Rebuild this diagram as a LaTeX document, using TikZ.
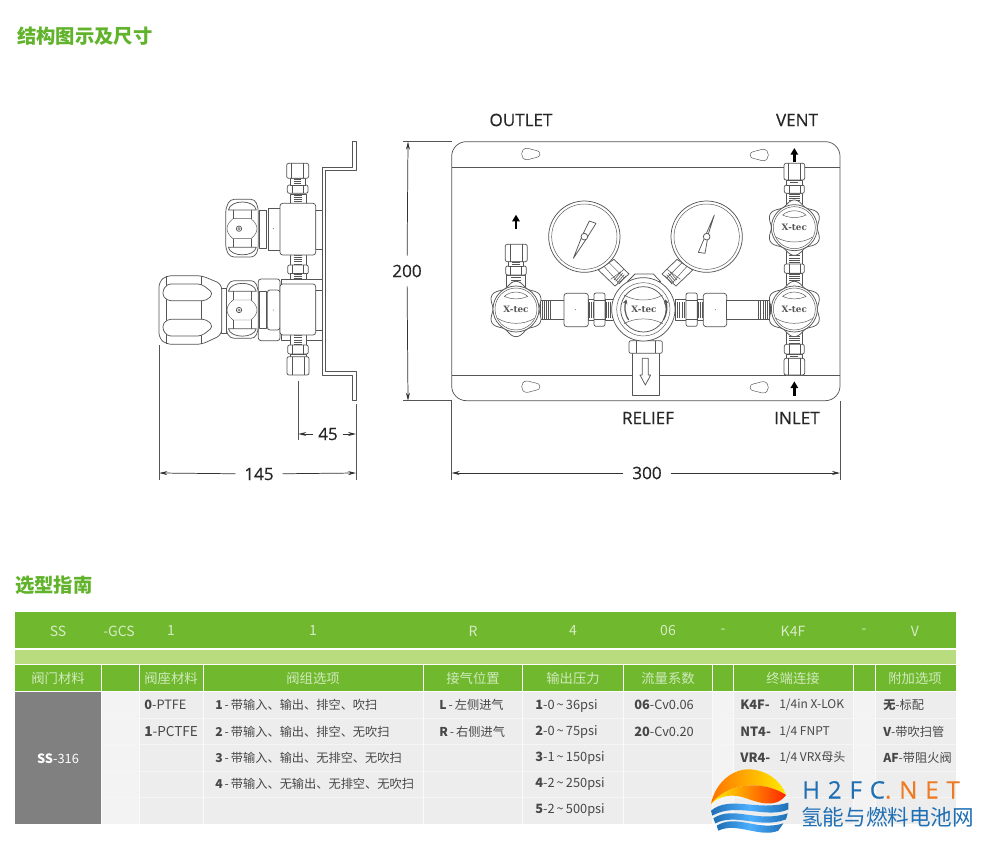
\documentclass[tikz,border=0pt]{standalone}
\usepackage{fontspec}
\setmainfont{Noto Sans CJK SC}
\newfontfamily\labelfont[FakeBold=.35]{Open Sans}
\newfontfamily\markfont[LetterSpace=33,FakeBold=.5]{Open Sans}
\newfontfamily\xtecfont{DejaVu Serif}
\usetikzlibrary{arrows.meta}
\definecolor{titlegreen}{HTML}{62B32C}
\definecolor{bargreen}{HTML}{70B92F}
\definecolor{palegreen}{HTML}{B9DC7E}
\definecolor{lightcell}{HTML}{EDEDED}
\definecolor{blankcell}{HTML}{F3F3F3}
\definecolor{greycell}{HTML}{808080}
\definecolor{linegray}{HTML}{555555}
\definecolor{markblue}{HTML}{1F6FB5}
\definecolor{markorange}{HTML}{EE7B24}
\tikzset{
  part/.style={draw=linegray,line width=.55pt,fill=white,line join=round},
  thin part/.style={draw=linegray,line width=.35pt},
  threadband/.style={draw=linegray,line width=#1,dash pattern=on .45pt off 1.15pt},
  extline/.style={draw=linegray,line width=.5pt},
  dimline/.style={draw=black!80,line width=.55pt,-{Stealth[length=6pt,width=3pt]}},
  flowarrow/.style={draw=black,line width=1.9pt,-{Stealth[length=5pt,width=5.5pt,inset=0pt]}},
  plainlabel/.style={font=\labelfont\fontsize{12.8}{15}\selectfont,text=black!85,inner sep=3.5pt},
  dimlabel/.style={plainlabel,inner sep=6.5pt},
  titletext/.style={font=\bfseries\fontsize{14.5}{16}\selectfont,text=titlegreen,anchor=west,inner sep=0pt},
  codetext/.style={font=\fontsize{10.5}{12}\selectfont,text=white!72!bargreen,inner sep=0pt},
  headtext/.style={font=\fontsize{10}{12}\selectfont,text=white!68!bargreen,inner sep=0pt},
  celltext/.style={font=\fontsize{9.6}{12}\selectfont,text=black!72,anchor=west,inner sep=0pt},
  cjkcell/.style={celltext,font=\fontsize{9.15}{12}\selectfont},
  xtecmark/.style={font=\xtecfont\bfseries\fontsize{6.6}{7}\selectfont,text=linegray,inner sep=0pt},
  knob/.pic={
    \draw[part] plot[domain=0:360,samples=121,smooth] ({(76-7*cos(6*\x))*cos(\x)},{(76-7*cos(6*\x))*sin(\x)}) -- cycle;
    \draw[part] (0,0) circle (69);
    \draw[thin part] (0,0) circle (63);
    \draw[thin part] (-35,-38) .. controls (-15,-55) and (15,-55) .. (35,-38) .. controls (15,-28) and (-15,-28) .. (-35,-38) -- cycle;
    \draw[thin part] (-55,28) .. controls (-25,48) and (25,48) .. (55,28);
    \node[xtecmark] (mark) at (0,0) {X-tec};
  },
  slot/.pic={
    \draw[thin part] (-12,-17) .. controls (-32,-17) and (-32,17) .. (-12,17) .. controls (0,17) and (5,11) .. (15,11) .. controls (32,11) and (32,-11) .. (15,-11) .. controls (5,-11) and (0,-17) .. (-12,-17) -- cycle;
  },
  sideknob/.pic={
    \draw[part,rounded corners=3pt] (-40,-60) -- (-27,-88) -- (48,-88) -- (58,-60) -- (58,60) -- (48,85) -- (-27,85) -- (-40,60) -- cycle;
    \draw[part] (-32,-56) .. controls (-25,-88) and (45,-88) .. (52,-56) -- cycle;
    \draw[part] (-32,56) .. controls (-25,86) and (45,86) .. (52,56) -- cycle;
    \draw[thin part] (-18,-56) -- (-18,-30) (36,-56) -- (36,-30) (-18,56) -- (-18,30) (36,56) -- (36,30);
    \draw[thin part] (-18,-30) -- (36,-30) .. controls (60,-10) and (60,10) .. (36,30) -- (-18,30) .. controls (-42,10) and (-42,-10) .. (-18,-30);
    \draw[part] (0,0) circle (8);
    \draw[thin part] (0,0) circle (3.5);
  }
}
% one fitting on a vertical axis, #1 x, #2 top, #3 bottom, #4 half width
\newcommand{\vnut}[4]{
  \draw[part,rounded corners=1.5pt] ({#1-#4},#2) rectangle ({#1+#4},#3);
  \draw[thin part] ({#1-.55*#4},#2) -- ({#1-.55*#4},#3) ({#1+.55*#4},#2) -- ({#1+.55*#4},#3);
}
% the same on a horizontal axis, #1 y, #2 left, #3 right, #4 half height
\newcommand{\hnut}[4]{
  \draw[part,rounded corners=1.5pt] (#2,{#1-#4}) rectangle (#3,{#1+#4});
  \draw[thin part] (#2,{#1-.55*#4}) -- (#3,{#1-.55*#4}) (#2,{#1+.55*#4}) -- (#3,{#1+.55*#4});
}
\begin{document}
\begin{tikzpicture}[x=.75pt,y=-.75pt]
  \useasboundingbox (0,0) rectangle (981,845);
  \fill[white] (0,0) rectangle (981,845);
  \node[titletext] (title1) at (17,36.5) {结构图示及尺寸};
  \node[titletext] (title2) at (15,585) {选型指南};

  % side view
  \begin{scope}[shift={(140,130)},x=.25pt,y=-.25pt]
    \draw[part] (637,35) -- (648,35) -- (648,122) -- (557,122) -- (557,725) -- (648,725) -- (648,812) -- (637,812) -- (637,735) -- (547,735) -- (547,112) -- (637,112) -- cycle;
    % upper valve
    \draw[part] (527,240) rectangle (548,358);
    \draw[part] (450,193) rectangle (500,222);
    \draw[threadband=6pt] (475,195) -- (475,220);
    \vnut{473}{165}{190}{31}
    \draw[part] (450,145) rectangle (497,165);
    \draw[threadband=5pt] (473,146) -- (473,164);
    \vnut{473}{100}{145}{33}
    \draw[part] (450,373) rectangle (500,407);
    \draw[threadband=6pt] (475,375) -- (475,405);
    \vnut{474}{405}{432}{31}
    \draw[part] (450,430) rectangle (500,465);
    \draw[threadband=6pt] (475,432) -- (475,462);
    \draw[part] (385,235) rectangle (420,360);
    \draw[part] (358,240) rectangle (380,355);
    \draw[part,rounded corners=2pt] (420,220) rectangle (527,375);
    \fill[linegray] (400,296) circle (1.5);
    \pic (sideA) at (297,296) {sideknob};
    % lower valve
    \draw[part] (425,447) rectangle (548,632);
    \draw[part] (527,480) rectangle (548,600);
    \draw[part] (450,612) rectangle (498,645);
    \draw[threadband=6pt] (474,616) -- (474,643);
    \vnut{474}{645}{672}{31}
    \draw[part] (450,672) rectangle (498,682);
    \vnut{474}{680}{735}{33}
    \draw[part,rounded corners=2pt] (355,447) rectangle (420,632);
    \draw[part,rounded corners=2pt] (382,480) rectangle (420,600);
    \draw[part] (358,485) rectangle (380,595);
    \draw[part,rounded corners=2pt] (420,462) rectangle (527,615);
    \fill[linegray] (400,540) circle (1.5);
    \pic (sideB) at (297,540) {sideknob};
    \draw[part] (245,475) rectangle (258,610);
    \draw[part,rounded corners=4pt] (57,455) -- (80,437) -- (185,437) -- (245,462) -- (245,615) -- (185,643) -- (80,643) -- (57,625) -- cycle;
    \draw[thin part] (80,437) -- (80,643) (185,437) -- (185,643);
    \draw[part,rounded corners=3pt] (80,462) -- (185,462) -- (220,490) -- (200,512) -- (80,512) -- (65,490) -- cycle;
    \draw[part,rounded corners=3pt] (80,568) -- (200,568) -- (220,590) -- (185,618) -- (80,618) -- (65,590) -- cycle;
  \end{scope}

  % front view
  \begin{scope}[shift={(440,130)},x=.25pt,y=-.25pt]
    \draw[part,rounded corners=11pt] (35,35) rectangle (1200,812);
    \draw[part] (35,113) -- (1200,113);
    \draw[part] (35,735) -- (1200,735);
    \pic at (272,72) {slot};
    \pic[xscale=-1] at (958,75) {slot};
    \pic at (272,770) {slot};
    \pic[xscale=-1] at (958,772) {slot};
    % gauges
    \draw[part] (475,420) -- (522,388) -- (567,432) -- (525,468) -- cycle;
    \draw[thin part] (492,409) -- (535,457) (507,398) -- (552,443) (512,448) -- (552,418);
    \draw[threadband=8pt] (532,437) -- (548,451);
    \draw[part] (758,420) -- (711,388) -- (666,432) -- (708,468) -- cycle;
    \draw[thin part] (741,409) -- (698,457) (726,398) -- (681,443) (721,448) -- (681,418);
    \draw[threadband=8pt] (701,437) -- (685,451);
    \draw[part] (433,320) circle (107);
    \draw[thin part] (433,320) circle (98);
    \draw[part] (800,320) circle (107);
    \draw[thin part] (800,320) circle (98);
    \draw[part] (400,385) -- (427,316) -- (448,273) -- (468,280) -- (440,325) -- cycle;
    \draw[part] (433,320) circle (10);
    \draw[part] (823,255) -- (805,312) -- (795,370) -- (775,367) -- (793,325) -- cycle;
    \draw[part] (800,320) circle (10);
    % left branch
    \draw[part] (200,435) rectangle (255,470);
    \draw[threadband=8pt] (228,436) -- (228,468);
    \vnut{228}{408}{435}{31}
    \draw[part] (205,395) rectangle (250,408);
    \draw[threadband=6pt] (228,396) -- (228,407);
    \vnut{229}{343}{395}{33}
    \draw[part] (300,510) rectangle (375,568);
    \draw[threadband=14pt] (305,539) -- (335,539);
    \draw[part,rounded corners=2pt] (372,490) rectangle (445,590);
    \fill[linegray] (406,539) circle (1.5);
    \draw[part] (445,507) rectangle (462,572);
    \draw[threadband=12pt] (446,539) -- (461,539);
    \hnut{539}{462}{495}{50}
    \draw[part] (495,507) rectangle (530,572);
    \draw[threadband=12pt] (497,539) -- (525,539);
    % right branch
    \draw[part] (705,507) rectangle (738,572);
    \draw[threadband=12pt] (712,539) -- (737,539);
    \hnut{539}{738}{772}{50}
    \draw[part] (772,507) rectangle (790,572);
    \draw[threadband=12pt] (773,539) -- (789,539);
    \draw[part,rounded corners=2pt] (790,490) rectangle (860,590);
    \fill[linegray] (826,539) circle (1.5);
    \draw[part] (860,510) rectangle (990,568);
    \draw[threadband=14pt] (955,539) -- (990,539);
    % relief
    \draw[part] (577,665) rectangle (657,797);
    \vnut{617}{632}{670}{50}
    \draw[part] (607,685) -- (625,685) -- (625,735) -- (632,735) -- (616,765) -- (600,735) -- (607,735) -- cycle;
    % regulator
    \draw[part] (562,455) -- (585,432) -- (640,432) -- (662,455) -- cycle;
    \draw[part] (610,538) circle (95);
    \draw[thin part] (610,538) circle (80);
    \draw[part] (610,538) circle (68);
    \draw[thin part] (552,495) .. controls (585,515) and (635,515) .. (668,495);
    \draw[thin part] (552,581) .. controls (585,562) and (635,562) .. (668,581);
    \node[xtecmark] (regmark) at (612,538) {X-tec};
    \draw[draw=linegray,line width=.9pt,-{Stealth[length=3.5pt,width=3.5pt]}] (566,570) .. controls (553,550) and (553,530) .. (559,508);
    \draw[draw=linegray,line width=.9pt,-{Stealth[length=3.5pt,width=3.5pt]}] (670,570) .. controls (682,550) and (682,530) .. (676,508);
    % right column
    \draw[part] (1038,190) rectangle (1088,225);
    \draw[threadband=8pt] (1063,192) -- (1063,215);
    \vnut{1063}{165}{190}{30}
    \draw[part] (1040,150) rectangle (1086,165);
    \draw[threadband=6pt] (1063,151) -- (1063,164);
    \vnut{1063}{100}{150}{31}
    \draw[part] (1038,365) rectangle (1088,402);
    \draw[threadband=8pt] (1063,370) -- (1063,400);
    \vnut{1063}{402}{430}{30}
    \draw[part] (1038,430) rectangle (1088,470);
    \draw[threadband=8pt] (1063,432) -- (1063,460);
    \draw[part] (1038,605) rectangle (1088,645);
    \draw[threadband=8pt] (1063,612) -- (1063,642);
    \vnut{1063}{643}{672}{30}
    \draw[part] (1040,672) rectangle (1086,686);
    \draw[threadband=6pt] (1063,673) -- (1063,685);
    \vnut{1063}{685}{735}{31}
    \pic (knobA) at (228,537) {knob};
    \pic (knobB) at (1063,293) {knob};
    \pic (knobC) at (1063,537) {knob};
    % flow arrows
    \coordinate (ventB) at (1063,97);
    \coordinate (ventT) at (1063,54);
    \coordinate (outB) at (228,298);
    \coordinate (outT) at (228,254);
    \coordinate (inB) at (1063,798);
    \coordinate (inT) at (1063,754);
    \draw[flowarrow] (ventB) -- (ventT);
    \draw[flowarrow] (outB) -- (outT);
    \draw[flowarrow] (inB) -- (inT);
  \end{scope}

  \node[plainlabel] (outlet) at (521,120) {OUTLET};
  \node[plainlabel] (vent) at (797,120) {VENT};
  \node[plainlabel] (relief) at (648,418) {RELIEF};
  \node[plainlabel] (inlet) at (797,418) {INLET};

  % dimensions
  \node[dimlabel] (dimA) at (259,474) {145};
  \node[plainlabel] (dimB) at (328,434) {45};
  \node[dimlabel] (dimC) at (407,271) {200};
  \node[dimlabel] (dimD) at (647,473) {300};
  \coordinate (dimAl) at (159.3,473);
  \coordinate (dimAr) at (356,473);
  \coordinate (dimBl) at (298.3,434);
  \coordinate (dimBr) at (356,434);
  \coordinate (dimCt) at (408,141.7);
  \coordinate (dimCb) at (408,400.7);
  \coordinate (dimDl) at (451.7,473);
  \coordinate (dimDr) at (840,473);
  \draw[extline] (159.3,345) -- (159.3,480);
  \draw[extline] (356,404) -- (356,480);
  \draw[extline] (298.3,381) -- (298.3,440);
  \draw[extline] (403,141.7) -- (451.7,141.7);
  \draw[extline] (403,400.7) -- (451.7,400.7);
  \draw[extline] (451.7,400.7) -- (451.7,480);
  \draw[extline] (840,400.7) -- (840,480);
  \draw[dimline] (dimA) -- (dimAl);
  \draw[dimline] (dimA) -- (dimAr);
  \draw[dimline] (dimB) -- (dimBl);
  \draw[dimline] (dimB) -- (dimBr);
  \draw[dimline] (dimC) -- (dimCt);
  \draw[dimline] (dimC) -- (dimCb);
  \draw[dimline] (dimD) -- (dimDl);
  \draw[dimline] (dimD) -- (dimDr);

  % table
  \fill[bargreen] (15,612) rectangle (956,648);
  \fill[palegreen] (15,650) rectangle (956,664);
  \fill[bargreen] (15,665) rectangle (956,691);
  \fill[lightcell] (15,692) rectangle (956,824);
  \fill[blankcell] (101,692) rectangle (139.5,824);
  \fill[blankcell] (712.7,692) rectangle (733.7,824);
  \fill[blankcell] (853.7,692) rectangle (875,824);
  \fill[greycell] (15,692) rectangle (101,824);
  \foreach \ry in {718.3,744.3,771,797.3}
    \draw[white!45!lightcell,line width=.6pt] (101,\ry) -- (956,\ry);
  \foreach \cx in {101,139.5,203.5,423,522.5,623.5,712.7,733.7,853.7,875}
    \draw[white!70!lightcell,line width=.7pt] (\cx,692) -- (\cx,824);
  \foreach \cx in {101,139.5,203.5,423,522.5,623.5,712.7,733.7,853.7,875}
    \draw[white,line width=.7pt] (\cx,665) -- (\cx,691);

  \foreach \nm/\cx/\txt in {SS/58/SS,GCS/119/-GCS,Seat/171/1,Opt/313/1,Side/473/R,Press/573/4,Flow/668/06,DashA/723/-,End/793/K4F,DashB/864/-,Extra/915/V}
    \node[codetext] (code\nm) at (\cx,631) {\txt};
  \foreach \nm/\cx/\txt in {Mat/58/阀门材料,Seat/171/阀座材料,Opt/313/阀组选项,Side/473/接气位置,Press/573/输出压力,Flow/668/流量系数,End/793/终端连接,Extra/915/附加选项}
    \node[headtext] (head\nm) at (\cx,678) {\txt};

  \node[font=\fontsize{9.6}{12}\selectfont,text=white,inner sep=0pt] (matSS) at (58,759) {\textbf{SS}-316};
  \node[celltext] (seatA) at (144,705) {\textbf{0}-PTFE};
  \node[celltext,font=\fontsize{10.2}{12}\selectfont] (seatB) at (144,731.5) {\textbf{1}-PCTFE};
  \node[cjkcell] (optA) at (215,705) {\textbf{1}\,-\,带输入、输出、排空、吹扫};
  \node[cjkcell] (optB) at (215,731.5) {\textbf{2}\,-\,带输入、输出、排空、无吹扫};
  \node[cjkcell] (optC) at (215,757.5) {\textbf{3}\,-\,带输入、输出、无排空、无吹扫};
  \node[cjkcell] (optD) at (215,784) {\textbf{4}\,-\,带输入、无输出、无排空、无吹扫};
  \node[cjkcell] (sideL) at (439,705) {\textbf{L}\,-\,左侧进气};
  \node[cjkcell] (sideR) at (439,731.5) {\textbf{R}\,-\,右侧进气};
  \node[celltext] (pressA) at (535,705.5) {\textbf{1}-0\,\textasciitilde\,36psi};
  \node[celltext] (pressB) at (535,732) {\textbf{2}-0\,\textasciitilde\,75psi};
  \node[celltext] (pressC) at (535,757.5) {\textbf{3}-1\,\textasciitilde\,150psi};
  \node[celltext] (pressD) at (535,784) {\textbf{4}-2\,\textasciitilde\,250psi};
  \node[celltext] (pressE) at (535,810) {\textbf{5}-2\,\textasciitilde\,500psi};
  \node[celltext] (flowA) at (634,705) {\textbf{06}-Cv0.06};
  \node[celltext] (flowB) at (634,731.5) {\textbf{20}-Cv0.20};
  \node[celltext] (endA) at (740,705) {\textbf{K4F-}};
  \node[celltext] (endB) at (740,731.5) {\textbf{NT4-}};
  \node[celltext] (endC) at (740,757.5) {\textbf{VR4-}};
  \node[celltext,font=\fontsize{9}{12}\selectfont] (endAt) at (779,705) {1/4in X-LOK};
  \node[celltext,font=\fontsize{9}{12}\selectfont] (endBt) at (779,731.5) {1/4 FNPT};
  \node[celltext,font=\fontsize{9}{12}\selectfont] (endCt) at (779,757.5) {1/4 VRX母头};
  \node[cjkcell] (extraA) at (883,705) {\textbf{无}-标配};
  \node[cjkcell] (extraB) at (883,731.5) {\textbf{V}-带吹扫管};
  \node[cjkcell] (extraC) at (883,757.5) {\textbf{AF}-带阻火阀};

  % mark
  \begin{scope}[shift={(700,760)},x=.25pt,y=-.25pt]
    \shade[left color=orange!90!red,right color=yellow!85!orange,draw=none] (33,132) .. controls (45,70) and (95,28) .. (145,28) .. controls (200,28) and (245,65) .. (258,105) .. controls (200,65) and (90,60) .. (33,132) -- cycle;
    \shade[left color=yellow!90!orange,right color=red!70!orange,draw=none] (33,132) .. controls (90,60) and (200,65) .. (258,105) .. controls (225,150) and (170,125) .. (130,112) .. controls (90,100) and (55,110) .. (33,132) -- cycle;
    \shade[left color=markblue,right color=markblue,middle color=cyan!55!blue!70,draw=none] (33,152) .. controls (90,105) and (170,155) .. (265,128) -- (265,148) .. controls (200,178) and (110,125) .. (37,167) -- cycle;
    \shade[left color=markblue,right color=markblue,middle color=cyan!55!blue!70,draw=none] (40,175) .. controls (100,135) and (170,190) .. (263,160) -- (258,178) .. controls (180,208) and (110,158) .. (46,190) -- cycle;
    \shade[left color=markblue,right color=markblue,middle color=cyan!55!blue!70,draw=none] (50,197) .. controls (110,160) and (170,215) .. (250,190) -- (235,212) .. controls (180,235) and (110,185) .. (55,212) -- cycle;
  \end{scope}
  \node[anchor=west,inner sep=0pt,font=\markfont\fontsize{18}{20}\selectfont] (markA) at (802,790) {\textcolor{markblue}{H2FC}\textcolor{markorange}{.NET}};
  \node[anchor=west,inner sep=0pt,font=\fontsize{16.2}{18}\selectfont,text=markblue] (markB) at (801,817) {氢能与燃料电池网};
\end{tikzpicture}
\end{document}
